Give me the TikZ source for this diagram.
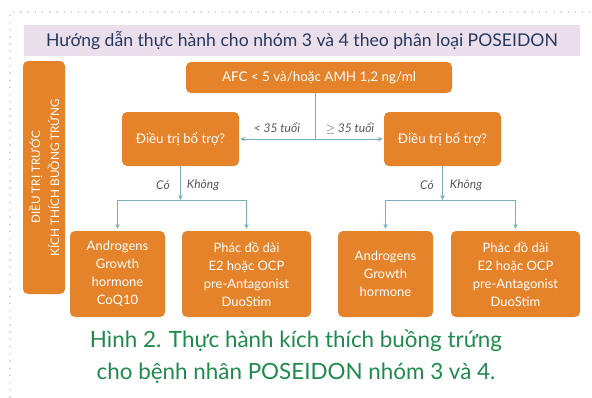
\documentclass[tikz,border=0pt]{standalone}
\usepackage{fontspec}
\setmainfont{Lato}
\usetikzlibrary{arrows.meta}
\definecolor{orng}{HTML}{E5832A}
\definecolor{lav}{HTML}{EBDFEB}
\definecolor{navy}{HTML}{26395F}
\definecolor{tealc}{HTML}{7AAFBF}
\definecolor{grn}{HTML}{1F8A4C}
\definecolor{dotg}{HTML}{BBBBBB}
\definecolor{lbl}{HTML}{555555}
\begin{document}
\begin{tikzpicture}[x=1pt,y=-1pt,
  box/.style={fill=orng, rounded corners=5pt, text=white, align=center, inner sep=0pt, font=\fontsize{13}{18}\selectfont},
  conn/.style={draw=tealc, line width=0.9pt, -{Stealth[length=5pt,width=4.5pt]}},
  lab/.style={text=lbl, font=\fontsize{12}{14}\selectfont\itshape, inner sep=0pt}]
\useasboundingbox (0,0) rectangle (592,397);
\draw[dotg, line width=1.6pt, dash pattern=on 0pt off 7.2pt, line cap=round] (10,397) -- (10,12) -- (592,12);
\node[fill=lav, minimum width=556pt, minimum height=31pt, inner sep=0pt, text=navy, font=\fontsize{17.6}{19}\selectfont] (title) at (302,40.5) {Hướng dẫn thực hành cho nhóm 3 và 4 theo phân loại POSEIDON};
\node[box, rotate=90, minimum width=233pt, minimum height=42pt, font=\fontsize{11.7}{19}\selectfont] (side) at (44,177.5) {ĐIỀU TRỊ TRƯỚC\\KÍCH THÍCH BUỒNG TRỨNG};
\node[box, minimum width=266pt, minimum height=31pt, font=\fontsize{13.4}{16}\selectfont] (afc) at (319,77.5) {AFC < 5 và/hoặc AMH 1,2 ng/ml};
\node[box, minimum width=117pt, minimum height=54pt, font=\fontsize{13.3}{17}\selectfont] (dl) at (180.5,139) {Điều trị bổ trợ?};
\node[box, minimum width=117pt, minimum height=54pt, font=\fontsize{13.3}{17}\selectfont] (dr) at (442.5,139) {Điều trị bổ trợ?};
\node[box, minimum width=95pt, minimum height=86pt] (b1) at (117.5,274) {Androgens\\Growth\\hormone\\CoQ10};
\node[box, minimum width=129pt, minimum height=86pt] (b2) at (246.5,274) {Phác đồ dài\\E2 hoặc OCP\\pre-Antagonist\\DuoStim};
\node[box, minimum width=95pt, minimum height=86pt] (b3) at (385.5,274) {Androgens\\Growth\\hormone};
\node[box, minimum width=129pt, minimum height=86pt] (b4) at (515.5,274) {Phác đồ dài\\E2 hoặc OCP\\pre-Antagonist\\DuoStim};
\coordinate (j) at (315,139);
\coordinate (jl) at (180.5,200);
\coordinate (jr) at (442.5,200);
\draw[draw=tealc, line width=0.9pt] (afc.south -| j) -- (j);
\draw[conn, shorten >=1pt] (j) -- (dl);
\draw[conn, shorten >=1pt] (j) -- (dr);
\draw[conn] (dl) -- (jl);
\draw[conn] (dr) -- (jr);
\draw[conn, shorten >=2pt] (jl) -| (b1);
\draw[conn, shorten >=2pt] (jl) -| (b2);
\draw[conn, shorten >=2pt] (jr) -| (b3);
\draw[conn, shorten >=2pt] (jr) -| (b4);
\node[lab] (l1) at (277,128) {< 35 tuổi};
\node[lab] (l2) at (350,128) {$\geq$ 35 tuổi};
\node[lab] (c1) at (163,185) {Có};
\node[lab] (k1) at (203,185) {Không};
\node[lab] (c2) at (427,185) {Có};
\node[lab] (k2) at (466,185) {Không};
\node[text=grn, align=center, inner sep=0pt, font=\fontsize{22.4}{32}\selectfont] (cap) at (296,357) {Hình 2. Thực hành kích thích buồng trứng\\cho bệnh nhân POSEIDON nhóm 3 và 4.};
\end{tikzpicture}
\end{document}
